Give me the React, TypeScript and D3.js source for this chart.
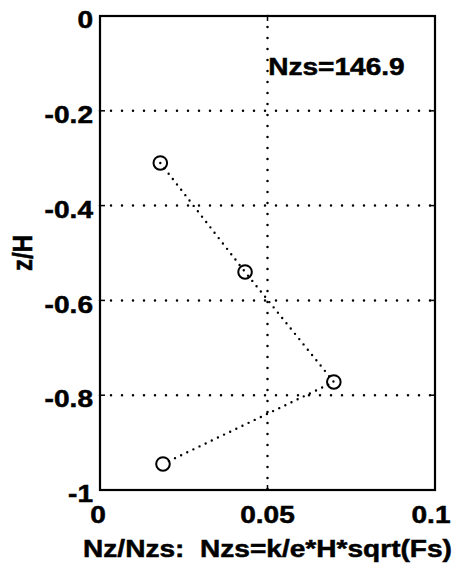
import React from 'react';
import * as d3 from 'd3';

// data
const nzRatio = [0.018, 0.0433, 0.0698, 0.0188];
const zOverH = [-0.31, -0.54, -0.772, -0.945];
const xTicks = [0, 0.05, 0.1];
const xTickLabels = ['0', '0.05', '0.1'];
const yTicks = [0, -0.2, -0.4, -0.6, -0.8, -1];
const yTickLabels = ['0', '-0.2', '-0.4', '-0.6', '-0.8', '-1'];
const xGrid = [0.05];
const yGrid = [-0.2, -0.4, -0.6, -0.8];
const annotation = { x: 0.0502, y: -0.124, text: 'Nzs=146.9' };
const xLabel = 'Nz/Nzs:  Nzs=k/e*H*sqrt(Fs)';
const yLabel = 'z/H';

const W = 456;
const H = 569;
const margin = { top: 16, right: 21, bottom: 79, left: 100 };
const FONT = '"Liberation Sans", Arial, Helvetica, sans-serif';
const STRETCH = 1.17; // the scanned text is a little wider than normal

const App: React.FC = () => {
  const x = d3.scaleLinear().domain([0, 0.1]).range([margin.left, W - margin.right]);
  const y = d3.scaleLinear().domain([-1, 0]).range([H - margin.bottom, margin.top]);
  const [x0, x1] = x.range();
  const [y0, y1] = y.range(); // y0 bottom, y1 top

  const pts = nzRatio.map((v, i) => [v, zOverH[i]] as [number, number]);
  const line = d3
    .line<[number, number]>()
    .x((d) => x(d[0]))
    .y((d) => y(d[1]));

  const tickLen = 5;
  const textStyle = {
    fontFamily: FONT,
    fontWeight: 'bold' as const,
    fontSize: 24,
    fill: '#000',
    stroke: '#000',
    strokeWidth: 0.5,
    whiteSpace: 'pre' as const,
  };

  return (
    <svg
      width={W}
      height={H}
      style={{ position: 'absolute', left: 0, top: 0, background: '#fff' }}
    >
      <rect x={0} y={0} width={W} height={H} fill="#fff" />

      {/* grid lines */}
      {xGrid.map((g) => (
        <line
          key={'xg' + g}
          x1={x(g)}
          x2={x(g)}
          y1={y1}
          y2={y0}
          stroke="#000"
          strokeWidth={2.5}
          strokeLinecap="round"
          strokeDasharray="0 11"
        />
      ))}
      {yGrid.map((g) => (
        <line
          key={'yg' + g}
          x1={x0}
          x2={x1}
          y1={y(g)}
          y2={y(g)}
          stroke="#000"
          strokeWidth={2.5}
          strokeLinecap="round"
          strokeDasharray="0 11"
        />
      ))}

      {/* ticks on all four sides, pointing inward */}
      {xTicks.map((t) => (
        <g key={'xt' + t}>
          <line x1={x(t)} x2={x(t)} y1={y0} y2={y0 - tickLen} stroke="#000" strokeWidth={1.5} />
          <line x1={x(t)} x2={x(t)} y1={y1} y2={y1 + tickLen} stroke="#000" strokeWidth={1.5} />
        </g>
      ))}
      {yTicks.map((t) => (
        <g key={'yt' + t}>
          <line x1={x0} x2={x0 + tickLen} y1={y(t)} y2={y(t)} stroke="#000" strokeWidth={1.5} />
          <line x1={x1} x2={x1 - tickLen} y1={y(t)} y2={y(t)} stroke="#000" strokeWidth={1.5} />
        </g>
      ))}

      {/* series */}
      <path
        d={line(pts) || ''}
        fill="none"
        stroke="#000"
        strokeWidth={2.4}
        strokeLinecap="round"
        strokeDasharray="0 6.8"
      />
      {pts.map((p, i) => (
        <circle
          key={'p' + i}
          cx={x(p[0])}
          cy={y(p[1])}
          r={6.8}
          fill="none"
          stroke="#000"
          strokeWidth={2}
        />
      ))}

      {/* frame */}
      <rect
        x={x0}
        y={y1}
        width={x1 - x0}
        height={y0 - y1}
        fill="none"
        stroke="#000"
        strokeWidth={2.2}
      />

      {/* tick labels */}
      {yTicks.map((t, i) => (
        <text
          key={'yl' + t}
          transform={`translate(${x0 - 7},${y(t) + 4}) scale(${STRETCH},1)`}
          textAnchor="end"
          dominantBaseline="central"
          style={textStyle}
        >
          {yTickLabels[i]}
        </text>
      ))}
      {xTicks.map((t, i) => (
        <text
          key={'xl' + t}
          transform={`translate(${x(t) - (i === 2 ? 4 : i === 0 ? 2 : 0)},${y0 + 25}) scale(${STRETCH},1)`}
          textAnchor="middle"
          dominantBaseline="central"
          style={textStyle}
        >
          {xTickLabels[i]}
        </text>
      ))}

      {/* annotation */}
      <text
        transform={`translate(${x(annotation.x)},${y(annotation.y)}) scale(${STRETCH},1)`}
        textAnchor="start"
        style={textStyle}
      >
        {annotation.text}
      </text>

      {/* axis labels */}
      <text
        transform={`translate(${(x0 + x1) / 2},${H - 12}) scale(${STRETCH},1)`}
        textAnchor="middle"
        style={textStyle}
      >
        {xLabel}
      </text>
      <text
        transform={`translate(32,${(y0 + y1) / 2}) rotate(-90) scale(1,${STRETCH})`}
        textAnchor="middle"
        style={textStyle}
      >
        {yLabel}
      </text>
    </svg>
  );
};

export default App;
